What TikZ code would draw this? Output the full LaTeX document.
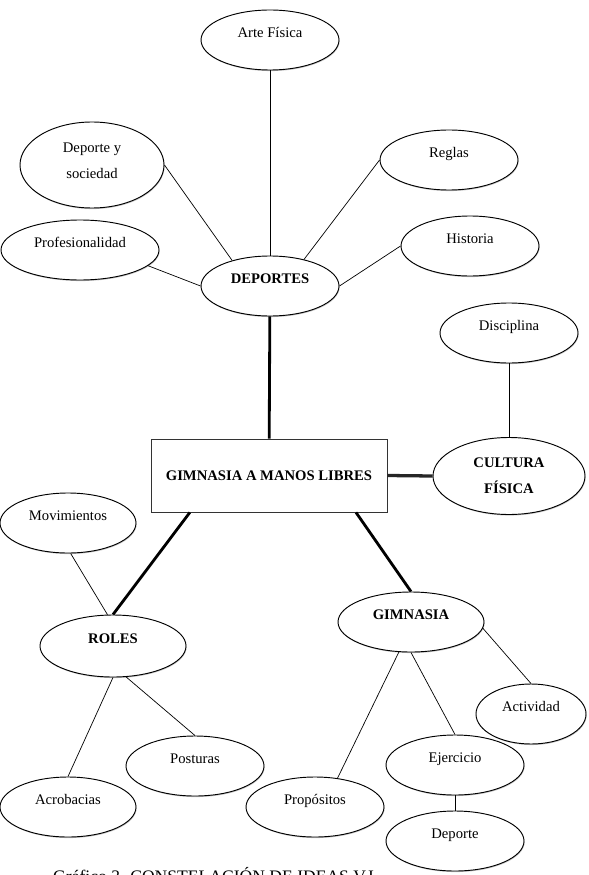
\documentclass[tikz,border=0pt]{standalone}
\usepackage{fontspec}
\setmainfont{Liberation Serif}
\usetikzlibrary{positioning, shapes.geometric, shadows}

\tikzset{
	ideabase/.style={
			ellipse,
			draw=black,
			line width=0.8pt,
			fill=white,
			drop shadow={shadow xshift=0.5pt, shadow yshift=-0.9pt, fill=black!45, opacity=0.5},
			inner sep=1pt,
			align=center,
			font=\fontsize{12.5}{22}\selectfont,
			minimum width=4.14cm,
			minimum height=1.8cm
		},
	ideanode/.style={
			ideabase,
			text height=9pt,
			text depth=14pt
		},
	boldnode/.style={
			ideanode,
			font=\fontsize{12.5}{22}\selectfont\bfseries
		},
	mainbox/.style={
			rectangle,
			draw=black!80,
			line width=0.7pt,
			fill=white,
			inner sep=2pt,
			font=\fontsize{12.5}{15}\selectfont\bfseries,
			minimum width=7.08cm,
			minimum height=2.19cm
		},
	thinline/.style={
			draw=black,
			line width=0.6pt
		},
	thickline/.style={
			draw=black,
			line width=2.4pt
		}
}

\begin{document}
\begin{tikzpicture}[x=0.03cm, y=-0.03cm]
\useasboundingbox (0,0) rectangle (588,875);

% deportes branch
\node (arte) at (270,40) [ideanode] {Arte Física};
\node (socied) at (92,165) [ideabase, minimum width=4.32cm, minimum height=2.58cm, text depth=7pt] {Deporte y\\sociedad};
\node (prof) at (80,250) [ideanode, minimum width=4.74cm] {Profesionalidad};
\node (reglas) at (449,160) [ideanode] {Reglas};
\node (hist) at (470,246) [ideanode] {Historia};
\node (dep) at (270,286) [boldnode] {DEPORTES};

% centro
\node (main) at (269,475.5) [mainbox] {GIMNASIA A MANOS LIBRES};

% cultura fisica
\node (disc) at (509,333) [ideanode] {Disciplina};
\node (cult) at (509,476) [ideabase, font=\fontsize{12.5}{22}\selectfont\bfseries, minimum width=4.56cm, minimum height=2.31cm] {CULTURA\\FÍSICA};

% roles
\node (mov) at (68,523) [ideanode, minimum width=4.08cm] {Movimientos};
\node (roles) at (113,646) [boldnode, minimum width=4.38cm, minimum height=1.86cm] {ROLES};
\node (post) at (195,766) [ideanode] {Posturas};
\node (acro) at (68,807) [ideanode, minimum width=4.08cm] {Acrobacias};

% gimnasia
\node (gimn) at (411,622) [boldnode, minimum width=4.38cm] {GIMNASIA};
\node (activ) at (531,714) [ideanode, minimum width=3.3cm] {Actividad};
\node (ejer) at (455,765) [ideanode] {Ejercicio};
\node (prop) at (315,807) [ideanode] {Propósitos};
\node (deporte) at (455,841) [ideanode] {Deporte};

\node (titulo) at (53,882) [anchor=base west, inner sep=0pt, font=\fontsize{15}{18}\selectfont] {Gráfico 3. CONSTELACIÓN DE IDEAS V.I};

\draw[thinline] (arte) -- (dep);
\draw[thinline] (socied.east) -- (dep.146);
\draw[thinline] (prof.-13) -- (dep.west);
\draw[thinline] (reglas.west) -- (dep.38);
\draw[thinline] (hist.west) -- (dep.east);

\draw[thickline] (dep) -- (main);
\draw[thickline, line width=2.8pt, draw=black!85] (main.east) -- (cult.west);
\draw[thickline] (main.-155.5) -- (roles.north);
\draw[thickline] (main.-23.7) -- (gimn.north);

\draw[thinline] (disc) -- (cult);

\draw[thinline] (mov.-85) -- (roles.100);
\draw[thinline] (roles.south) -- (acro.north);
\draw[thinline] (roles.-67) -- (post.north);

\draw[thinline] (gimn.-112) -- (prop.52);
\draw[thinline] (gimn.south) -- (ejer.north);
\draw[thinline] (gimn.-5) -- (activ.north);
\draw[thinline] (ejer) -- (deporte);

\end{tikzpicture}
\end{document}
